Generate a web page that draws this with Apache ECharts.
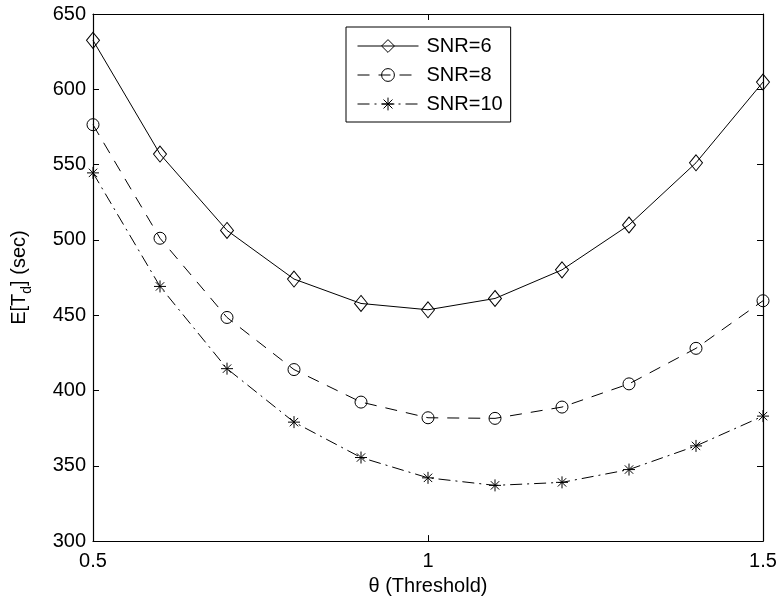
<!DOCTYPE html>
<html>
<head>
<meta charset="utf-8">
<script src="https://cdn.jsdelivr.net/npm/echarts@6/dist/echarts.min.js"></script>
<style>
  html, body { margin: 0; padding: 0; background: #fff; }
  #chart { width: 781px; height: 601px; }
</style>
</head>
<body>
<div id="chart"></div>
<script>
// Detection threshold values (x axis)
const thresholds = [0.5, 0.6, 0.7, 0.8, 0.9, 1.0, 1.1, 1.2, 1.3, 1.4, 1.5];

// Expected detection time E[T_d] in seconds, one array per SNR
const snr6  = [632.5, 557.0, 506.3, 474.0, 457.8, 453.6, 461.1, 480.1, 509.9, 551.2, 604.8];
const snr8  = [576.5, 501.1, 448.5, 413.9, 392.3, 381.9, 381.5, 389.0, 404.4, 428.0, 459.6];
const snr10 = [544.5, 469.1, 414.5, 379.0, 355.5, 342.0, 337.0, 339.0, 347.5, 363.2, 383.0];

const seriesNames = ['SNR=6', 'SNR=8', 'SNR=10'];

const FONT = '"Liberation Sans", Arial, Helvetica, sans-serif';
const FS = 20;

function pairs(xs, ys) { return xs.map((x, i) => [x, ys[i]]); }

// plus + cross asterisk marker
const asterisk = 'path://M0,-10L0,10M-10,0L10,0M-7,-7L7,7M-7,7L7,-7';

const lineBase = {
  type: 'line',
  showAllSymbol: true,
  animation: false,
  itemStyle: { color: 'rgba(0,0,0,0)', borderColor: '#000', borderWidth: 1 },
  emphasis: { disabled: true },
  xAxisIndex: 0, yAxisIndex: 0
};

const chart = echarts.init(document.getElementById('chart'), null, { renderer: 'canvas' });

const axisCommon = {
  axisLine: { show: true, onZero: false, lineStyle: { color: '#000', width: 1.2 } },
  axisTick: { show: true, inside: true, length: 6, lineStyle: { color: '#000', width: 1 } },
  splitLine: { show: false }
};

chart.setOption({
  backgroundColor: '#fff',
  animation: false,
  textStyle: { fontFamily: FONT },
  grid: { left: 93, top: 14, right: 18, bottom: 58, containLabel: false },
  legend: {
    data: seriesNames,
    orient: 'vertical',
    left: 346, top: 27,
    padding: [9, 8, 8, 11],
    itemWidth: 61, itemHeight: 16, itemGap: 9,
    backgroundColor: '#fff',
    borderColor: '#000', borderWidth: 1,
    itemStyle: { borderWidth: 1 },
    lineStyle: { width: 1 },
    textStyle: { fontSize: FS, color: '#000', fontFamily: FONT, padding: [0, 0, 0, 3] }
  },
  xAxis: [
    Object.assign({
      type: 'value', min: 0.5, max: 1.5, interval: 0.5, position: 'bottom',
      name: 'θ (Threshold)', nameLocation: 'middle', nameGap: 34,
      nameTextStyle: { fontSize: FS, color: '#000', fontFamily: FONT },
      axisLabel: { fontSize: FS, color: '#000', fontFamily: FONT, margin: 10 }
    }, axisCommon),
    Object.assign({
      type: 'value', min: 0.5, max: 1.5, interval: 0.5, position: 'top',
      axisLabel: { show: false }
    }, axisCommon)
  ],
  yAxis: [
    Object.assign({
      type: 'value', min: 300, max: 650, interval: 50, position: 'left',
      name: '{a|E[T}{b|d}{a|] (sec)}', nameLocation: 'middle', nameGap: 59,
      nameTextStyle: {
        fontSize: FS, color: '#000', fontFamily: FONT,
        rich: {
          a: { fontSize: FS, fontFamily: FONT, color: '#000', verticalAlign: 'bottom', padding: [0, 0, 5, 0] },
          b: { fontSize: 14, fontFamily: FONT, color: '#000', verticalAlign: 'bottom' }
        }
      },
      axisLabel: { fontSize: FS, color: '#000', fontFamily: FONT, margin: 7 }
    }, axisCommon),
    Object.assign({
      type: 'value', min: 300, max: 650, interval: 50, position: 'right',
      axisLabel: { show: false }
    }, axisCommon)
  ],
  series: [
    Object.assign({}, lineBase, {
      name: seriesNames[0],
      data: pairs(thresholds, snr6),
      symbol: 'diamond', symbolSize: [13, 16],
      lineStyle: { color: '#000', width: 1, type: 'solid' }
    }),
    Object.assign({}, lineBase, {
      name: seriesNames[1],
      data: pairs(thresholds, snr8),
      symbol: 'circle', symbolSize: 12,
      lineStyle: { color: '#000', width: 1, type: [12, 9] }
    }),
    Object.assign({}, lineBase, {
      name: seriesNames[2],
      data: pairs(thresholds, snr10),
      symbol: asterisk, symbolSize: 12,
      lineStyle: { color: '#000', width: 1, type: [12, 5, 2, 5] }
    })
  ]
});
</script>
</body>
</html>
